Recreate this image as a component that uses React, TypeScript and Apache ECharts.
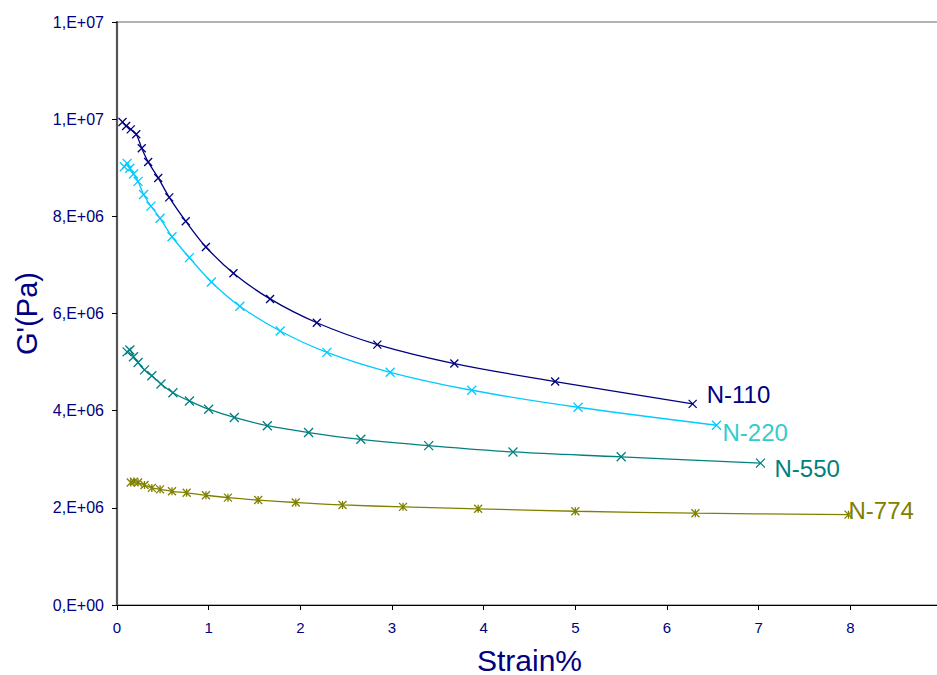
import React, { useEffect, useRef } from "react";
import * as echarts from "echarts";

// Strain (%) and G' (Pa)
const n110Strain = [0.06, 0.10, 0.15, 0.21, 0.27, 0.34, 0.45, 0.57, 0.75, 0.97, 1.27, 1.67, 2.18, 2.84, 3.68, 4.78, 6.28];
const n110G = [9.94e6, 9.86e6, 9.79e6, 9.69e6, 9.40e6, 9.12e6, 8.79e6, 8.39e6, 7.90e6, 7.37e6, 6.83e6, 6.30e6, 5.81e6, 5.36e6, 4.97e6, 4.60e6, 4.14e6];

const n220Strain = [0.08, 0.11, 0.14, 0.18, 0.23, 0.29, 0.37, 0.47, 0.60, 0.79, 1.03, 1.34, 1.78, 2.29, 2.98, 3.87, 5.03, 6.54];
const n220G = [9.02e6, 9.09e6, 8.99e6, 8.87e6, 8.72e6, 8.45e6, 8.21e6, 7.96e6, 7.58e6, 7.15e6, 6.65e6, 6.15e6, 5.64e6, 5.20e6, 4.79e6, 4.42e6, 4.07e6, 3.70e6];

const n550Strain = [0.11, 0.14, 0.18, 0.23, 0.30, 0.38, 0.48, 0.61, 0.79, 1.00, 1.28, 1.64, 2.09, 2.66, 3.40, 4.32, 5.50, 7.02];
const n550G = [5.21e6, 5.25e6, 5.11e6, 4.99e6, 4.84e6, 4.72e6, 4.55e6, 4.37e6, 4.20e6, 4.03e6, 3.86e6, 3.69e6, 3.55e6, 3.41e6, 3.28e6, 3.15e6, 3.05e6, 2.92e6];

const n774Strain = [0.15, 0.185, 0.23, 0.30, 0.38, 0.47, 0.60, 0.76, 0.97, 1.21, 1.54, 1.95, 2.46, 3.12, 3.94, 5.00, 6.31, 7.98];
const n774G = [2.52e6, 2.54e6, 2.52e6, 2.47e6, 2.41e6, 2.38e6, 2.34e6, 2.31e6, 2.26e6, 2.21e6, 2.16e6, 2.11e6, 2.06e6, 2.02e6, 1.98e6, 1.93e6, 1.89e6, 1.86e6];

const seriesNames = ["N-110", "N-220", "N-550", "N-774"];

const crossPath = "path://M0,0L10,10M10,0L0,10";
const starPath = "path://M0,0L10,10M10,0L0,10M5,0L5,10";

function fmtY(v: number): string {
  if (v === 0) return "0,E+00";
  const e = Math.floor(Math.log10(v) + 1e-9);
  const m = Math.round(v / Math.pow(10, e));
  return `${m},E+${e < 10 ? "0" + e : e}`;
}

function pairs(xs: number[], ys: number[]) {
  return xs.map((x, i) => [x, ys[i]]);
}

const FONT = "Liberation Sans, Arial, sans-serif";

export default function App() {
  const ref = useRef<HTMLDivElement>(null);
  useEffect(() => {
    if (!ref.current) return;
    const chart = echarts.init(ref.current, undefined, { renderer: "svg" });
    const mk = (
      name: string,
      data: number[][],
      lineColor: string,
      labelColor: string,
      symbol: string,
      size: number,
      offset: number[]
    ) => ({
      name,
      type: "line",
      data,
      smooth: 0.35,
      symbol,
      symbolSize: size,
      showAllSymbol: true,
      lineStyle: { color: lineColor, width: 1.3 },
      itemStyle: { color: lineColor, borderColor: lineColor, borderWidth: 1.3 },
      endLabel: {
        show: true,
        formatter: name,
        color: labelColor,
        fontSize: 24,
        fontFamily: FONT,
        distance: 0,
        offset,
      },
      emphasis: { disabled: true },
    });
    chart.setOption({
      animation: false,
      grid: {
        left: 117,
        top: 22,
        width: 825,
        height: 583,
        show: true,
        borderColor: "#9a9a9a",
        borderWidth: 1.5,
        outerBoundsMode: "none",
        containLabel: false,
      },
      xAxis: {
        type: "value",
        min: 0,
        max: 9,
        interval: 1,
        name: "Strain%",
        nameLocation: "middle",
        nameGap: 40,
        nameTextStyle: { color: "#000080", fontSize: 30, fontFamily: FONT },
        axisLine: { show: true, lineStyle: { color: "#000", width: 1.2 } },
        axisTick: { show: true, length: 5, lineStyle: { color: "#000" } },
        axisLabel: {
          color: "#000080",
          fontSize: 15,
          margin: 15,
          fontFamily: FONT,
          showMaxLabel: false,
        },
        splitLine: { show: false },
      },
      yAxis: {
        type: "value",
        min: 0,
        max: 12000000,
        interval: 2000000,
        name: "G'(Pa)",
        nameLocation: "middle",
        nameRotate: 90,
        nameGap: 75,
        nameTextStyle: { color: "#000080", fontSize: 29, fontFamily: FONT },
        axisLine: { show: true, lineStyle: { color: "#555", width: 2.2 } },
        axisTick: { show: true, length: 5, lineStyle: { color: "#000" } },
        axisLabel: {
          color: "#000080",
          fontSize: 16,
          margin: 13,
          fontFamily: FONT,
          formatter: (v: number) => fmtY(v),
        },
        splitLine: { show: false },
      },
      series: [
        mk(seriesNames[0], pairs(n110Strain, n110G), "#000080", "#000080", crossPath, 8, [14, -9]),
        mk(seriesNames[1], pairs(n220Strain, n220G), "#00CCFF", "#33CCCC", crossPath, 9, [6, 7]),
        mk(seriesNames[2], pairs(n550Strain, n550G), "#008080", "#008080", crossPath, 9, [14, 5]),
        mk(seriesNames[3], pairs(n774Strain, n774G), "#808000", "#808000", starPath, 8, [0, -4]),
      ],
    });
    return () => chart.dispose();
  }, []);
  return (
    <div
      ref={ref}
      style={{ position: "fixed", left: 0, top: 0, width: 937, height: 675, background: "#fff" }}
    />
  );
}
